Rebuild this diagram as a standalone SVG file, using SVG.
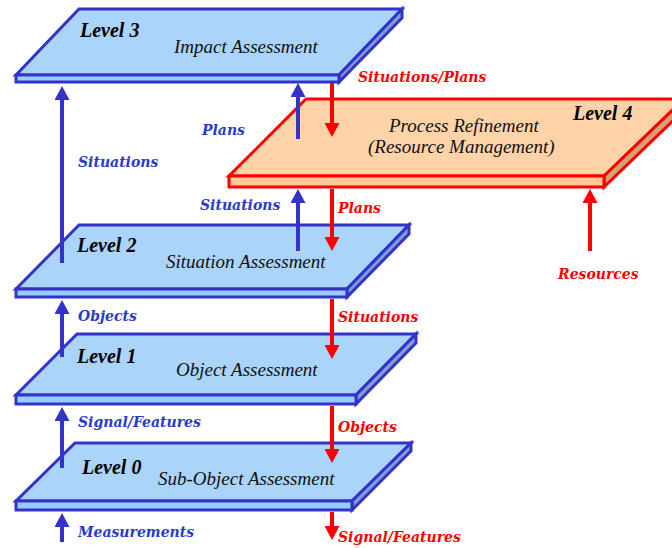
<svg xmlns="http://www.w3.org/2000/svg" width="672" height="548" viewBox="0 0 672 548">
<style>
.bt{fill:#aad4fa;stroke:#3333cc;stroke-width:3;stroke-linejoin:miter}
.bf{fill:#99ccff;stroke:#3333cc;stroke-width:3}
.bs{fill:#7f9fd0;stroke:#3333cc;stroke-width:3;stroke-linejoin:miter}
.ot{fill:#ffd3a8;stroke:#ff0000;stroke-width:3}
.of{fill:#ffc896;stroke:#ff0000;stroke-width:3}
.os{fill:#d4a274;stroke:#ff0000;stroke-width:3}
.lv{font-family:"Liberation Serif",serif;font-weight:bold;font-style:italic;font-size:20px;fill:#000}
.nm{font-family:"Liberation Serif",serif;font-style:italic;font-size:19px;fill:#111}
.bl{font-family:"DejaVu Serif",serif;font-weight:bold;font-style:italic;font-size:14px;fill:#2a3bcc}
.rl{font-family:"DejaVu Serif",serif;font-weight:bold;font-style:italic;font-size:14px;fill:#ff0000}
.ba{stroke:#3333cc;stroke-width:4;fill:none;marker-end:url(#bh)}
.ra{stroke:#ff0000;stroke-width:4;fill:none;marker-end:url(#rh)}
</style>
<defs>
<marker id="bh" viewBox="0 0 14 15" markerWidth="14" markerHeight="15" refX="0" refY="7.5" orient="auto" markerUnits="userSpaceOnUse"><path d="M0,0 L14,7.5 L0,15 z" fill="#3333cc"/></marker>
<marker id="rh" viewBox="0 0 14 15" markerWidth="14" markerHeight="15" refX="0" refY="7.5" orient="auto" markerUnits="userSpaceOnUse"><path d="M0,0 L14,7.5 L0,15 z" fill="#ff0000"/></marker>
</defs>
<rect width="672" height="548" fill="#fff"/>

<g id="level3">
<polygon class="bt" points="79,9 402,9 339,75 16,75"/>
<polygon class="bs" points="339,75 402,9 402,18 339,82"/>
<rect class="bf" x="16" y="75" width="323" height="7"/>
<text class="lv" x="80" y="37">Level 3</text>
<text class="nm" x="174" y="53">Impact Assessment</text>
</g>

<g id="level4">
<polygon class="ot" points="306,99 684,99 604,176 229,176"/>
<polygon class="os" points="604,176 684,99 684,110 604,187"/>
<rect class="of" x="229" y="176" width="375" height="11"/>
<text class="lv" x="573" y="120">Level 4</text>
<text class="nm" x="389" y="132">Process Refinement</text>
<text class="nm" x="368" y="153">(Resource Management)</text>
</g>

<g id="level2">
<polygon class="bt" points="79,225 409,225 347,289 16,289"/>
<polygon class="bs" points="347,289 409,225 409,234 347,297"/>
<rect class="bf" x="16" y="289" width="331" height="8"/>
<text class="lv" x="77" y="252">Level 2</text>
<text class="nm" x="166" y="268">Situation Assessment</text>
</g>

<g id="level1">
<polygon class="bt" points="77,334 416,334 356,395 16,395"/>
<polygon class="bs" points="356,395 416,334 416,343 356,404"/>
<rect class="bf" x="16" y="395" width="340" height="9"/>
<text class="lv" x="77" y="363">Level 1</text>
<text class="nm" x="176" y="376">Object Assessment</text>
</g>

<g id="level0">
<polygon class="bt" points="75,443 411,443 352,501 16,501"/>
<polygon class="bs" points="352,501 411,443 411,451 352,510"/>
<rect class="bf" x="16" y="501" width="336" height="9"/>
<text class="lv" x="82" y="474">Level 0</text>
<text class="nm" x="158" y="485">Sub-Object Assessment</text>
</g>

<g id="connectors">
<path class="ba" d="M62,263 V100"/>
<path class="ba" d="M298,139 V97"/>
<path class="ra" d="M332,83 V123"/>
<path class="ba" d="M298,251 V203"/>
<path class="ra" d="M332,189 V237"/>
<path class="ba" d="M62,357 V314"/>
<path class="ra" d="M332,299 V345"/>
<path class="ba" d="M62,468 V421"/>
<path class="ra" d="M332,406 V449"/>
<path class="ba" d="M62,542 V527"/>
<path class="ra" d="M332,512 V526"/>
<path class="ra" d="M590,251 V203"/>
</g>

<g id="labels">
<text class="rl" x="358" y="82">Situations/Plans</text>
<text class="bl" x="202" y="135">Plans</text>
<text class="bl" x="78" y="167">Situations</text>
<text class="bl" x="200" y="210">Situations</text>
<text class="rl" x="338" y="213">Plans</text>
<text class="rl" x="558" y="279">Resources</text>
<text class="bl" x="78" y="321">Objects</text>
<text class="rl" x="338" y="322">Situations</text>
<text class="bl" x="78" y="427">Signal/Features</text>
<text class="rl" x="338" y="432">Objects</text>
<text class="bl" x="78" y="537">Measurements</text>
<text class="rl" x="338" y="542">Signal/Features</text>
</g>
</svg>
